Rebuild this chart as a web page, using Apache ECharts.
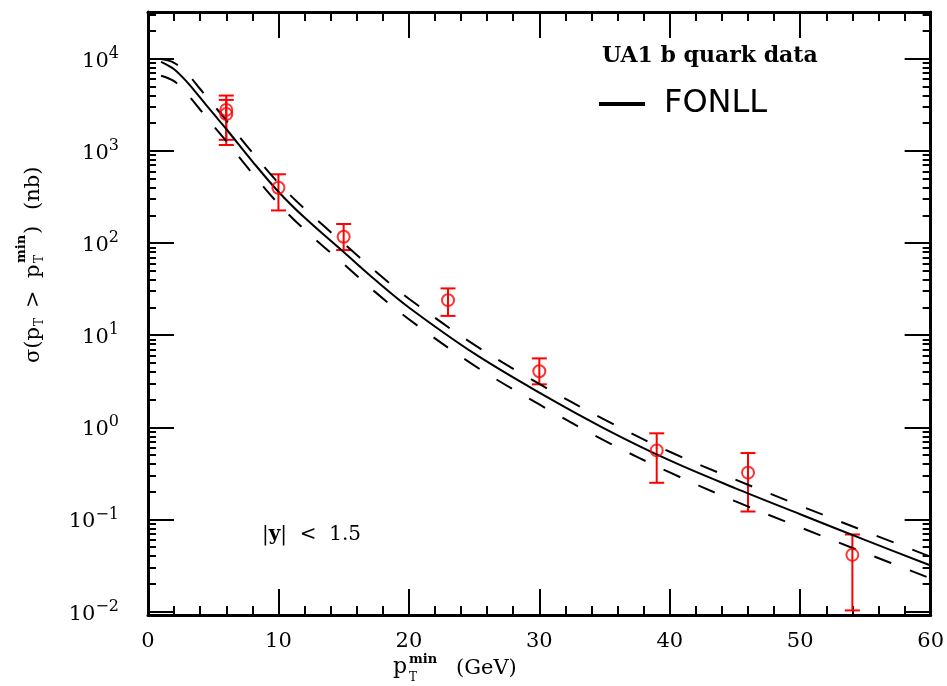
<!DOCTYPE html>
<html>
<head>
<meta charset="utf-8">
<script src="https://cdn.jsdelivr.net/npm/echarts@6/dist/echarts.min.js"></script>
<style>
html,body{margin:0;padding:0;background:#fff;}
#chart{width:947px;height:686px;}
</style>
</head>
<body>
<div id="chart"></div>
<script>
// ---- FONLL theory curves (pT_min in GeV, sigma in nb) ----
const fonllX = [1, 2, 3, 4, 5, 6, 8, 10, 12, 15, 17.5, 20, 25, 30, 35, 40, 45, 50, 55, 60];
const fonllCentral = [9270, 7710, 5580, 3780, 2550, 1730, 771, 361, 189, 79.8, 38.9, 20.0, 6.34, 2.38, 0.970, 0.437, 0.219, 0.114, 0.0596, 0.0316];
const fonllUpper = [9930, 9060, 6950, 4700, 3180, 2150, 959, 449, 236, 99.3, 48.4, 24.9, 7.89, 2.96, 1.21, 0.543, 0.272, 0.141, 0.0741, 0.0394];
const fonllLower = [6560, 5720, 4140, 2800, 1890, 1280, 571, 267, 140, 59.2, 28.8, 14.9, 4.70, 1.77, 0.719, 0.324, 0.158, 0.0822, 0.0432, 0.0229];

// ---- UA1 b quark data points ----
const dataX = [6, 6, 10, 15, 23, 30, 39, 46, 54];
const dataY = [2790, 2510, 399, 117, 24.0, 4.06, 0.562, 0.322, 0.0413];
const dataHigh = [3990, 3580, 558, 161, 32.2, 5.6, 0.861, 0.526, 0.0687];
const dataLow = [1320, 1160, 226, 84, 16.2, 2.93, 0.25, 0.122, 0.0103];

// ---- axis ticks ----
const xMin = 0, xMax = 60, xInterval = 10;
const yMajorTicks = [0.01, 0.1, 1, 10, 100, 1000, 10000];
const yMin = Math.pow(10, -2.037), yMax = Math.pow(10, 4.508);
const yMinorTicks = [];
for (let k = -3; k <= 4; k++) {
  for (let m = 2; m <= 9; m++) {
    const v = m * Math.pow(10, k);
    if (v > yMin && v < yMax) yMinorTicks.push(v);
  }
}

const SERIF = '"DejaVu Serif", "Liberation Serif", serif';
const zip = (xs, ys) => xs.map((x, i) => [x, ys[i]]);

const chart = echarts.init(document.getElementById('chart'), null, {renderer: 'canvas'});

function yLabel(v) {
  const e = Math.round(Math.log10(v));
  const s = e < 0 ? '\u2212' + (-e) : String(e);
  return '{b|10}{s|' + s + '}';
}

const yAxisBase = {
  type: 'log',
  min: yMin,
  max: yMax,
  splitLine: {show: false},
  axisLine: {show: true, lineStyle: {color: '#000', width: 3}},
};

const option = {
  animation: false,
  backgroundColor: '#fff',
  title: {
    text: 'UA1 b quark data',
    left: 602, top: 45, padding: 0,
    textStyle: {fontFamily: SERIF, fontWeight: 'bold', fontSize: 22, color: '#000'}
  },
  legend: {
    left: 599, top: 88, padding: 0,
    data: [{name: 'FONLL', icon: 'rect', itemStyle: {color: '#000'}}],
    itemWidth: 46, itemHeight: 4,
    textStyle: {fontFamily: '"DejaVu Sans", sans-serif', fontSize: 32, color: '#000', padding: [0, 0, 0, 14]},
    selectedMode: false
  },
  grid: {left: 148, right: 14, top: 12, bottom: 71, containLabel: false},
  xAxis: [
    {
      type: 'value', position: 'bottom', min: xMin, max: xMax, interval: xInterval,
      axisLine: {show: true, onZero: false, lineStyle: {color: '#000', width: 3}},
      axisTick: {show: true, inside: true, length: 26, lineStyle: {color: '#000', width: 2}},
      minorTick: {show: true, splitNumber: 5, length: 9, lineStyle: {color: '#000', width: 2}},
      axisLabel: {show: true, margin: 16, fontFamily: SERIF, fontSize: 21, color: '#000'},
      splitLine: {show: false}
    },
    {
      type: 'value', position: 'top', min: xMin, max: xMax, interval: xInterval,
      axisLine: {show: true, onZero: false, lineStyle: {color: '#000', width: 3}},
      axisTick: {show: true, inside: true, length: 26, lineStyle: {color: '#000', width: 2}},
      minorTick: {show: true, splitNumber: 5, length: 9, lineStyle: {color: '#000', width: 2}},
      axisLabel: {show: false},
      splitLine: {show: false}
    }
  ],
  yAxis: [
    Object.assign({}, yAxisBase, {
      position: 'left',
      axisTick: {show: true, inside: true, length: 26, customValues: yMajorTicks, lineStyle: {color: '#000', width: 2}},
      axisLabel: {
        show: true, margin: 29, customValues: yMajorTicks, formatter: yLabel,
        rich: {
          b: {fontFamily: SERIF, fontSize: 21, color: '#000', lineHeight: 26, verticalAlign: 'bottom'},
          s: {fontFamily: SERIF, fontSize: 16, color: '#000', lineHeight: 26, verticalAlign: 'top'}
        }
      }
    }),
    Object.assign({}, yAxisBase, {
      position: 'left',
      axisLine: {show: false},
      axisTick: {show: true, inside: true, length: 8, customValues: yMinorTicks, lineStyle: {color: '#000', width: 2}},
      axisLabel: {show: false}
    }),
    Object.assign({}, yAxisBase, {
      position: 'right',
      axisTick: {show: true, inside: true, length: 26, customValues: yMajorTicks, lineStyle: {color: '#000', width: 2}},
      axisLabel: {show: false}
    }),
    Object.assign({}, yAxisBase, {
      position: 'right',
      axisLine: {show: false},
      axisTick: {show: true, inside: true, length: 8, customValues: yMinorTicks, lineStyle: {color: '#000', width: 2}},
      axisLabel: {show: false}
    })
  ],
  series: [
    {
      name: 'FONLL', type: 'line', xAxisIndex: 0, yAxisIndex: 0,
      data: zip(fonllX, fonllCentral), showSymbol: false, smooth: 0.35,
      itemStyle: {color: '#000'},
      lineStyle: {color: '#000', width: 2}
    },
    {
      name: 'FONLL upper', type: 'line', xAxisIndex: 0, yAxisIndex: 0,
      data: zip(fonllX, fonllUpper), showSymbol: false, smooth: 0.35,
      itemStyle: {color: '#000'},
      lineStyle: {color: '#000', width: 2, type: [18, 20]}
    },
    {
      name: 'FONLL lower', type: 'line', xAxisIndex: 0, yAxisIndex: 0,
      data: zip(fonllX, fonllLower), showSymbol: false, smooth: 0.35,
      itemStyle: {color: '#000'},
      lineStyle: {color: '#000', width: 2, type: [18, 20]}
    },
    {
      name: 'UA1 errors', type: 'custom', xAxisIndex: 0, yAxisIndex: 0,
      data: dataX.map((x, i) => [x, dataY[i], dataLow[i], dataHigh[i]]),
      encode: {x: 0, y: [1, 2, 3]},
      renderItem: function (params, api) {
        const x = api.value(0);
        const lo = api.coord([x, api.value(2)]);
        const hi = api.coord([x, api.value(3)]);
        const hw = 7.5;
        const st = {stroke: '#ff0000', lineWidth: 2};
        return {
          type: 'group',
          children: [
            {type: 'line', shape: {x1: hi[0], y1: hi[1], x2: lo[0], y2: lo[1]}, style: st},
            {type: 'line', shape: {x1: hi[0] - hw, y1: hi[1], x2: hi[0] + hw, y2: hi[1]}, style: st},
            {type: 'line', shape: {x1: lo[0] - hw, y1: lo[1], x2: lo[0] + hw, y2: lo[1]}, style: st}
          ]
        };
      },
      z: 3
    },
    {
      name: 'UA1 b quark data', type: 'scatter', xAxisIndex: 0, yAxisIndex: 0,
      data: zip(dataX, dataY),
      symbol: 'circle', symbolSize: 12,
      itemStyle: {color: 'rgba(0,0,0,0)', borderColor: '#ff0000', borderWidth: 2},
      z: 4
    }
  ],
  graphic: [
    // |y| < 1.5
    {
      type: 'text', left: 262, top: 525,
      style: {
        text: '{n||}{b|y}{n||  <  1.5}',
        rich: {
          n: {fontFamily: SERIF, fontSize: 20, fill: '#000'},
          b: {fontFamily: SERIF, fontSize: 20, fontWeight: 'bold', fill: '#000'}
        }
      }
    },
    // x-axis title: p_T^min (GeV)
    {type: 'text', x: 393, y: 667, style: {text: 'p', fontFamily: SERIF, fontSize: 22, fill: '#000', verticalAlign: 'middle'}},
    {type: 'text', x: 409, y: 660, style: {text: 'min', fontFamily: SERIF, fontSize: 13, fontWeight: 'bold', fill: '#000', verticalAlign: 'middle'}},
    {type: 'text', x: 409, y: 678, style: {text: 'T', fontFamily: SERIF, fontSize: 12, fill: '#000', verticalAlign: 'middle'}},
    {type: 'text', x: 456, y: 669, style: {text: '(GeV)', fontFamily: SERIF, fontSize: 21, fill: '#000', verticalAlign: 'middle'}},
    // y-axis title: sigma(p_T > p_T^min) (nb), rotated
    {
      type: 'group', x: 34, y: 258, rotation: Math.PI / 2,
      children: [
        {type: 'text', x: -105, y: 0, style: {text: '\u03c3(p', fontFamily: SERIF, fontSize: 21, fill: '#000', verticalAlign: 'middle'}},
        {type: 'text', x: -68, y: 6, style: {text: 'T', fontFamily: SERIF, fontSize: 12, fill: '#000', verticalAlign: 'middle'}},
        {type: 'text', x: -50, y: 0, style: {text: '>', fontFamily: SERIF, fontSize: 21, fill: '#000', verticalAlign: 'middle'}},
        {type: 'text', x: -20, y: 0, style: {text: 'p', fontFamily: SERIF, fontSize: 21, fill: '#000', verticalAlign: 'middle'}},
        {type: 'text', x: -5, y: 6, style: {text: 'T', fontFamily: SERIF, fontSize: 12, fill: '#000', verticalAlign: 'middle'}},
        {type: 'text', x: -5, y: -12, style: {text: 'min', fontFamily: SERIF, fontSize: 13, fontWeight: 'bold', fill: '#000', verticalAlign: 'middle'}},
        {type: 'text', x: 24, y: 0, style: {text: ')', fontFamily: SERIF, fontSize: 21, fill: '#000', verticalAlign: 'middle'}},
        {type: 'text', x: 48, y: 0, style: {text: '(nb)', fontFamily: SERIF, fontSize: 21, fill: '#000', verticalAlign: 'middle'}}
      ]
    }
  ]
};

chart.setOption(option);
</script>
</body>
</html>
